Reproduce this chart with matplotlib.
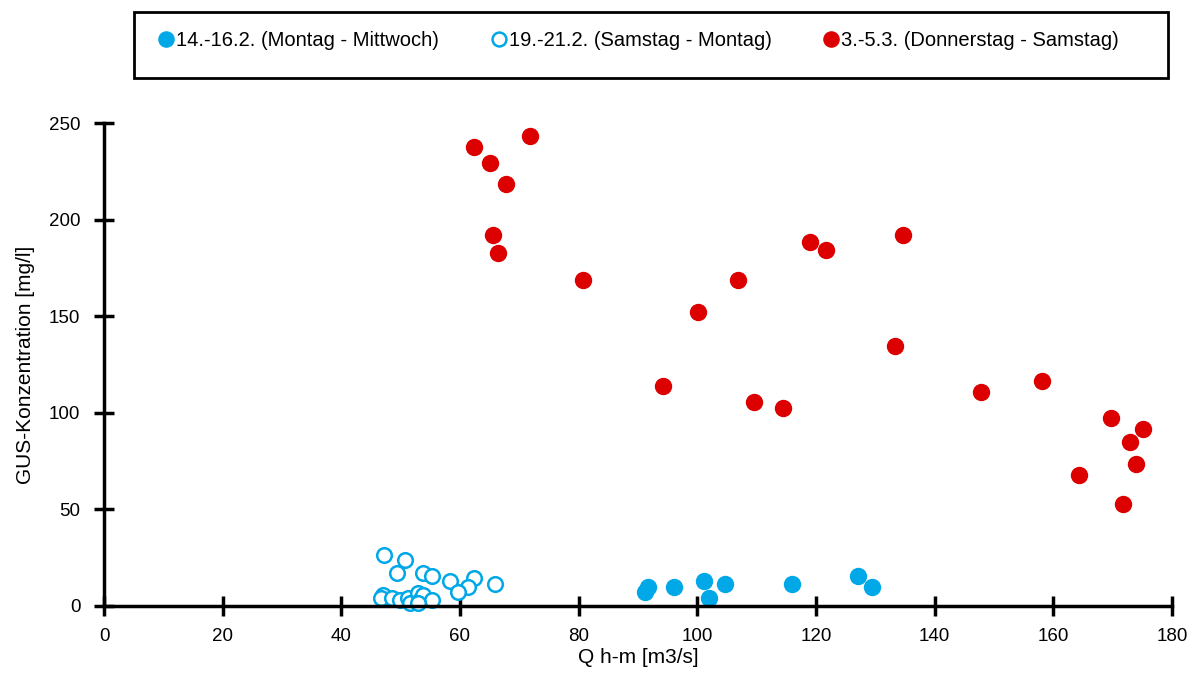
import matplotlib.pyplot as plt
from matplotlib.patches import Rectangle

plt.rcParams['font.family'] = ['Liberation Sans', 'DejaVu Sans']

# 14.-16.2. (filled blue)
q_feb14 = [91.2, 91.7, 96.1, 101.1, 102.0, 104.7, 115.9, 127.1, 129.4]
c_feb14 = [7.2, 9.8, 9.8, 12.9, 4.1, 11.4, 11.4, 15.5, 9.8]

# 19.-21.2. (open blue)
q_feb19 = [47.2, 50.7, 49.4, 53.8, 55.3, 58.3, 62.4, 61.4, 59.7, 65.9,
           47.0, 46.7, 48.5, 49.9, 51.2, 51.6, 52.9, 53.3, 53.8, 55.3, 52.9]
c_feb19 = [26.4, 23.8, 17.1, 17.1, 15.5, 12.9, 14.5, 9.8, 7.2, 11.4,
           5.7, 4.1, 4.1, 3.1, 4.1, 1.6, 6.7, 3.1, 5.7, 3.1, 1.6]

# 3.-5.3. (red)
q_mar3 = [62.4, 65.1, 71.8, 67.8, 65.6, 66.4, 80.7, 94.2, 100.1, 106.9, 109.6,
          114.4, 119.0, 121.7, 133.3, 134.7, 147.8, 158.1, 164.3, 169.7, 172.9,
          174.0, 175.1, 171.8]
c_mar3 = [237.6, 229.3, 243.3, 218.4, 192.0, 182.7, 168.7, 113.9, 152.2, 168.7,
          105.6, 102.5, 188.4, 184.3, 134.6, 192.0, 110.8, 116.5, 67.8, 97.3,
          84.9, 73.5, 91.6, 52.8]

labels = ['14.-16.2. (Montag - Mittwoch)', '19.-21.2. (Samstag - Montag)',
          '3.-5.3. (Donnerstag - Samstag)']
xticks = [0, 20, 40, 60, 80, 100, 120, 140, 160, 180]
yticks = [0, 50, 100, 150, 200, 250]

blue = '#00A8E8'
red = '#DC0000'

fig = plt.figure(figsize=(11.98, 6.73), dpi=100)
ax = fig.add_axes([104 / 1198, 67 / 673, (1172 - 104) / 1198, (606 - 123) / 673])

ax.plot(q_feb14, c_feb14, 'o', color=blue, markersize=11.5, label=labels[0], clip_on=False)
ax.plot(q_feb19, c_feb19, 'o', markerfacecolor='white', markeredgecolor=blue,
        markeredgewidth=1.8, markersize=10.5, label=labels[1], clip_on=False)
ax.plot(q_mar3, c_mar3, 'o', color=red, markersize=11.5, label=labels[2], clip_on=False)

ax.set_xlim(0, 180)
ax.set_ylim(0, 250)
ax.set_xticks(xticks)
ax.set_yticks(yticks)
for s in ['top', 'right']:
    ax.spines[s].set_visible(False)
for s in ['left', 'bottom']:
    ax.spines[s].set_linewidth(2.5)
ax.tick_params(direction='inout', length=14, width=2.5, labelsize=13.5)
ax.tick_params(axis='x', pad=9)
ax.tick_params(axis='y', pad=10)
ax.set_xlabel('Q h-m [m3/s]', fontsize=15, labelpad=2)
ax.set_ylabel('GUS-Konzentration [mg/l]', fontsize=15, labelpad=10)

fig.patches.append(Rectangle((134 / 1198, 1 - 78 / 673), (1168 - 134) / 1198, 66 / 673,
                             transform=fig.transFigure, facecolor='none',
                             edgecolor='black', linewidth=2))
leg = fig.legend(loc='center', bbox_to_anchor=(638 / 1198, 1 - 41 / 673), ncol=3,
                 frameon=False, fontsize=14.5, handletextpad=0.05,
                 columnspacing=2.5, handlelength=0.9, markerscale=0.95)

fig.savefig('out.png', dpi=100)
